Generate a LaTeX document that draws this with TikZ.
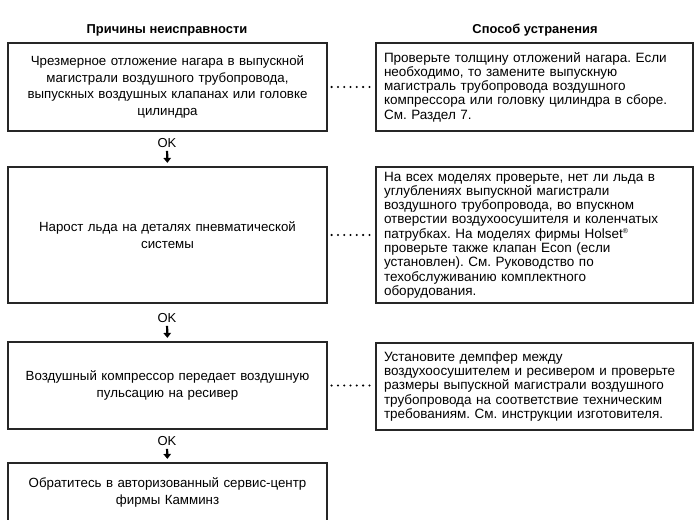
\documentclass[tikz,border=0pt]{standalone}
\usepackage{fontspec}
\setmainfont{Liberation Sans}
\usetikzlibrary{arrows.meta}
\frenchspacing
\begin{document}
\begin{tikzpicture}[x=1pt,y=-1pt,
  cause/.style={draw=black!85, line width=1.2pt, minimum width=319pt, text width=319pt, inner sep=0pt, align=center, font=\fontsize{13.3}{16.8}\selectfont},
  fix/.style={draw=black!85, line width=1.2pt, minimum width=317pt, text width=301pt, inner xsep=8pt, inner ysep=0pt, align=left, font=\fontsize{13.5}{14.3}\selectfont},
  hdr/.style={font=\fontsize{12.9}{15}\selectfont\bfseries},
  oklbl/.style={font=\fontsize{13}{14}\selectfont, inner sep=1pt},
  okarrow/.style={line width=2.2pt, -{Triangle[width=7.5pt,length=5pt]}, shorten <=2pt, shorten >=3.5pt},
  dotline/.style={line width=2.3pt, line cap=round, dash pattern=on 0pt off 6.3pt, shorten <=4pt, shorten >=3pt}
]
\useasboundingbox (0,0) rectangle (700,519);
\clip (0,0) rectangle (700,519);

\node[hdr] (h1) at (167,30) {Причины неисправности};
\node[hdr] (h2) at (535,30) {Способ устранения};

\node[cause, minimum height=88pt] (L1) at (167.5,87) {Чрезмерное отложение нагара в выпускной\\магистрали воздушного трубопровода,\\выпускных воздушных клапанах или головке\\цилиндра};
\node[fix, minimum height=88pt] (R1) at (534.5,87) {Проверьте толщину отложений нагара. Если\\необходимо, то замените выпускную\\магистраль трубопровода воздушного\\компрессора или головку цилиндра в сборе.\\См. Раздел 7.};

\node[cause, minimum height=136pt] (L2) at (167.5,235) {Нарост льда на деталях пневматической\\системы};
\node[fix, minimum height=136pt] (R2) at (534.5,235) {На всех моделях проверьте, нет ли льда в\\углублениях выпускной магистрали\\воздушного трубопровода, во впускном\\отверстии воздухоосушителя и коленчатых\\патрубках. На моделях фирмы Holset\textsuperscript{\scriptsize ®}\\проверьте также клапан Econ (если\\установлен). См. Руководство по\\техобслуживанию комплектного\\оборудования.};

\node[cause, minimum height=87pt] (L3) at (167.5,385.5) {Воздушный компрессор передает воздушную\\пульсацию на ресивер};
\node[fix, minimum height=87pt] (R3) at (534.5,386.5) {Установите демпфер между\\воздухоосушителем и ресивером и проверьте\\размеры выпускной магистрали воздушного\\трубопровода на соответствие техническим\\требованиям. См. инструкции изготовителя.};

\node[cause, minimum height=100pt, text depth=60pt] (L4) at (167.5,513) {Обратитесь в авторизованный сервис-центр\\фирмы Камминз};

\node[oklbl] (ok1) at (167,143) {OK};
\node[oklbl] (ok2) at (167,318) {OK};
\node[oklbl] (ok3) at (167,441) {OK};

\draw[okarrow] (ok1.south) -- (L2.north);
\draw[okarrow] (ok2.south) -- (L3.north);
\draw[okarrow] (ok3.south) -- (L4.north);

\draw[dotline] (L1.east) -- (L1.east -| R1.west);
\draw[dotline] (L2.east) -- (L2.east -| R2.west);
\draw[dotline] (L3.east) -- (L3.east -| R3.west);
\end{tikzpicture}
\end{document}
